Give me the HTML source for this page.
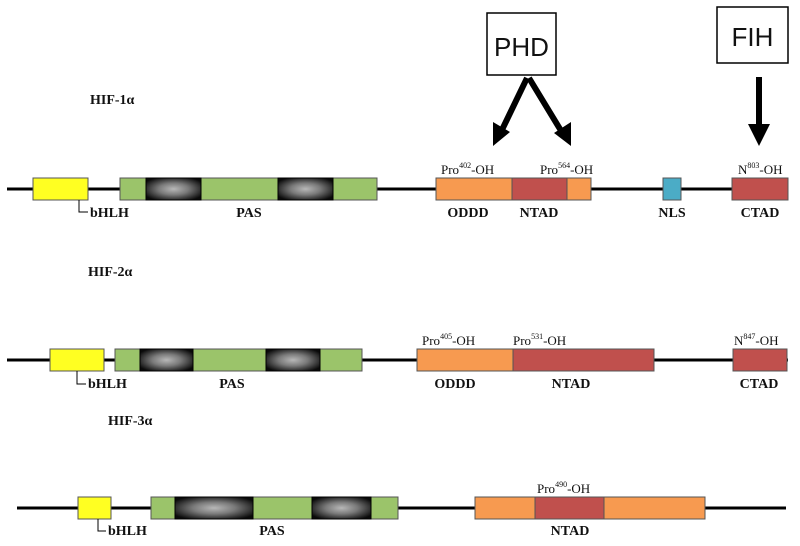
<!DOCTYPE html>
<html><head><meta charset="utf-8"><style>
html,body{margin:0;padding:0;background:#fff;}
svg{display:block;}
text{font-family:"Liberation Serif",serif;fill:#111;}
.b{font-weight:bold;font-size:14px;}
.s{font-size:13px;}
</style></head><body>
<svg width="800" height="546" viewBox="0 0 800 546" xmlns="http://www.w3.org/2000/svg">
<defs>
<radialGradient id="g" cx="0.5" cy="0.5" r="0.6">
<stop offset="0" stop-color="#b8b8b8"/><stop offset="0.45" stop-color="#7a7a7a"/><stop offset="1" stop-color="#0a0a0a"/>
</radialGradient>
</defs>
<g stroke="#555" stroke-width="1">
<!-- Row 1 -->
<line x1="7" y1="189" x2="788" y2="189" stroke="#000" stroke-width="3"/>
<rect x="33" y="178" width="55" height="22" fill="#ffff22"/>
<rect x="120" y="178" width="257" height="22" fill="#9bc46a"/>
<rect x="146" y="178" width="55" height="22" fill="url(#g)" stroke="#000"/>
<rect x="278" y="178" width="55" height="22" fill="url(#g)" stroke="#000"/>
<rect x="436" y="178" width="76" height="22" fill="#f79a50"/>
<rect x="512" y="178" width="55" height="22" fill="#c0504d"/>
<rect x="567" y="178" width="24" height="22" fill="#f79a50"/>
<rect x="663" y="178" width="18" height="22" fill="#4bacc6"/>
<rect x="732" y="178" width="56" height="22" fill="#c0504d"/>
<!-- Row 2 -->
<line x1="7" y1="360" x2="788" y2="360" stroke="#000" stroke-width="3"/>
<rect x="50" y="349" width="54" height="22" fill="#ffff22"/>
<rect x="115" y="349" width="247" height="22" fill="#9bc46a"/>
<rect x="140" y="349" width="53" height="22" fill="url(#g)" stroke="#000"/>
<rect x="266" y="349" width="54" height="22" fill="url(#g)" stroke="#000"/>
<rect x="417" y="349" width="96" height="22" fill="#f79a50"/>
<rect x="513" y="349" width="141" height="22" fill="#c0504d"/>
<rect x="733" y="349" width="54" height="22" fill="#c0504d"/>
<!-- Row 3 -->
<line x1="17" y1="508" x2="786" y2="508" stroke="#000" stroke-width="3"/>
<rect x="78" y="497" width="33" height="22" fill="#ffff22"/>
<rect x="151" y="497" width="247" height="22" fill="#9bc46a"/>
<rect x="175" y="497" width="78" height="22" fill="url(#g)" stroke="#000"/>
<rect x="312" y="497" width="59" height="22" fill="url(#g)" stroke="#000"/>
<rect x="475" y="497" width="230" height="22" fill="#f79a50"/>
<rect x="535" y="497" width="69" height="22" fill="#c0504d"/>
</g>
<!-- bHLH brackets -->
<g fill="none" stroke="#000" stroke-width="1">
<polyline points="79,200 79,212 88,212"/>
<polyline points="77,371 77,384 86,384"/>
<polyline points="98,519 98,531 106,531"/>
</g>
<!-- PHD / FIH -->
<rect x="487" y="13" width="69" height="62" fill="#fff" stroke="#000" stroke-width="1.5"/>
<text x="521.5" y="56" text-anchor="middle" style="font-family:'Liberation Sans',sans-serif;font-size:26px">PHD</text>
<rect x="717" y="7" width="71" height="56" fill="#fff" stroke="#000" stroke-width="1.5"/>
<text x="752.5" y="46" text-anchor="middle" style="font-family:'Liberation Sans',sans-serif;font-size:26px">FIH</text>
<g stroke="#000" stroke-width="6" fill="none">
<line x1="527" y1="78" x2="500" y2="134"/>
<line x1="529" y1="78" x2="563" y2="134"/>
<line x1="759" y1="77" x2="759" y2="130"/>
</g>
<g fill="#000">
<polygon points="493,146 493,122 510,132"/>
<polygon points="571,146 554,133 571,122"/>
<polygon points="759,146 748,124 770,124"/>
</g>
<!-- Titles -->
<text class="b" x="90" y="104">HIF-1α</text>
<text class="b" x="88" y="276">HIF-2α</text>
<text class="b" x="108" y="425">HIF-3α</text>
<!-- Row1 labels -->
<text class="b" x="90" y="217">bHLH</text>
<text class="b" x="249" y="217" text-anchor="middle">PAS</text>
<text class="b" x="468" y="217" text-anchor="middle">ODDD</text>
<text class="b" x="539" y="217" text-anchor="middle">NTAD</text>
<text class="b" x="672" y="217" text-anchor="middle">NLS</text>
<text class="b" x="760" y="217" text-anchor="middle">CTAD</text>
<text class="s" x="441" y="174">Pro<tspan font-size="8" dy="-6">402</tspan><tspan dy="6">-OH</tspan></text>
<text class="s" x="540" y="174">Pro<tspan font-size="8" dy="-6">564</tspan><tspan dy="6">-OH</tspan></text>
<text class="s" x="738" y="174">N<tspan font-size="8" dy="-6">803</tspan><tspan dy="6">-OH</tspan></text>
<!-- Row2 labels -->
<text class="b" x="88" y="388">bHLH</text>
<text class="b" x="232" y="388" text-anchor="middle">PAS</text>
<text class="b" x="455" y="388" text-anchor="middle">ODDD</text>
<text class="b" x="571" y="388" text-anchor="middle">NTAD</text>
<text class="b" x="759" y="388" text-anchor="middle">CTAD</text>
<text class="s" x="422" y="345">Pro<tspan font-size="8" dy="-6">405</tspan><tspan dy="6">-OH</tspan></text>
<text class="s" x="513" y="345">Pro<tspan font-size="8" dy="-6">531</tspan><tspan dy="6">-OH</tspan></text>
<text class="s" x="734" y="345">N<tspan font-size="8" dy="-6">847</tspan><tspan dy="6">-OH</tspan></text>
<!-- Row3 labels -->
<text class="b" x="108" y="535">bHLH</text>
<text class="b" x="272" y="535" text-anchor="middle">PAS</text>
<text class="b" x="570" y="535" text-anchor="middle">NTAD</text>
<text class="s" x="537" y="493">Pro<tspan font-size="8" dy="-6">490</tspan><tspan dy="6">-OH</tspan></text>
</svg>
</body></html>
